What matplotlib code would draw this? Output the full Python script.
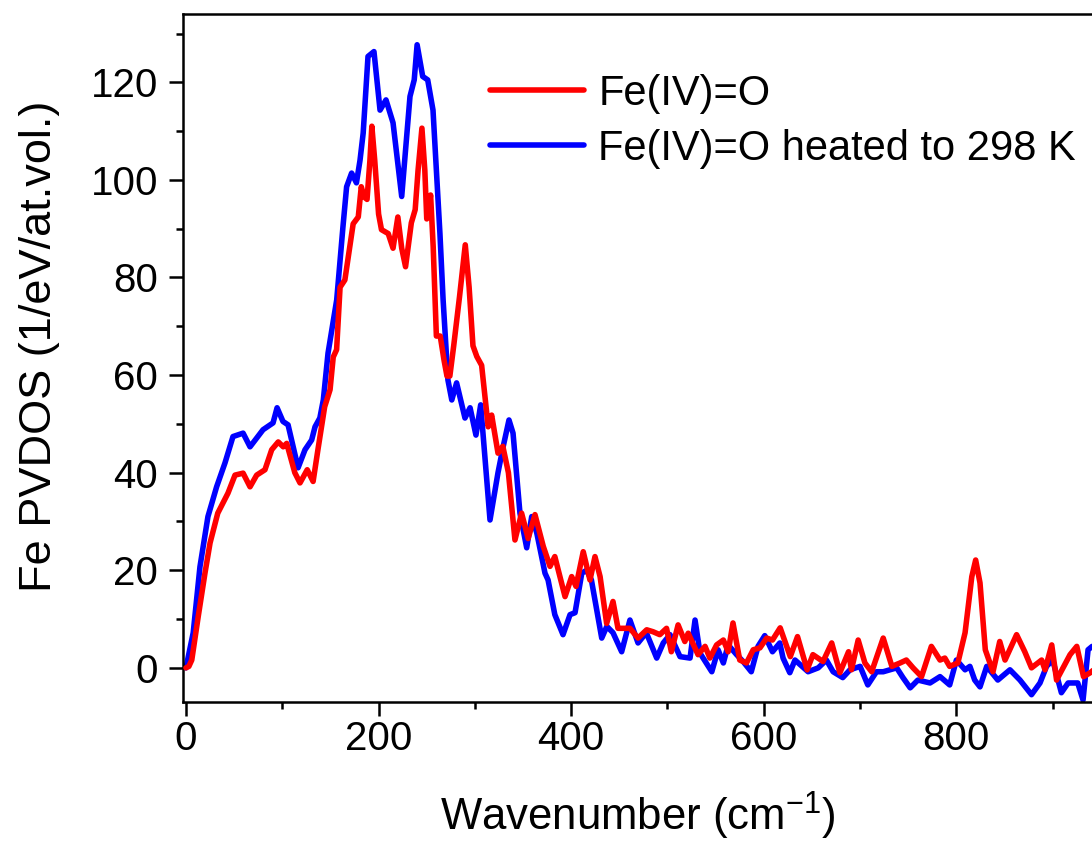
import numpy as np
import matplotlib
matplotlib.use('Agg')
import matplotlib.pyplot as plt
from matplotlib.ticker import MultipleLocator

plt.rcParams['font.family'] = ['Liberation Sans', 'DejaVu Sans']
plt.rcParams['mathtext.fontset'] = 'custom'
plt.rcParams['mathtext.rm'] = 'Liberation Sans'
plt.rcParams['mathtext.default'] = 'regular'

# Fe(IV)=O  (red)
red_x = [0, 3, 6, 12.7, 19.7, 25, 33, 43.6, 50.9, 59.3, 66.5, 73.4, 82, 89, 95.8,
         101, 104.6, 113, 118.4, 125.9, 132, 137, 144, 149.6, 152.9, 156.4, 160,
         165, 173.6, 178.9, 182, 185, 188, 191, 193, 196, 200, 203, 210, 215, 220,
         224, 228, 234, 238, 241, 245, 248, 250, 252, 254, 256.7, 260, 264, 268,
         271, 274, 278, 284, 290, 294, 298, 302, 307, 313.8, 317.4, 324, 329,
         334.8, 341.6, 348.5, 355.3, 362.4, 371, 378, 383, 393.6, 400.5, 405,
         412.5, 419.5, 424.7, 430, 436.8, 443.4, 448.6, 461, 469.4, 478.4, 485,
         492, 499, 504, 511, 518, 521.5, 531.7, 539, 544, 551, 558, 563, 568,
         575, 582, 589, 596, 603, 609, 617, 627.5, 635, 645, 651, 661.5, 670.5,
         679, 688, 691, 698, 705, 712, 724, 733, 741.5, 748, 755, 763.8, 774,
         783, 788, 793, 801.5, 809, 816, 820, 824.5, 830, 838, 845, 850.5, 862.5,
         871, 878, 888.5, 892, 899, 904, 918, 925, 932, 939, 945]
red_y = [0, 0.3, 1.6, 10.5, 19.4, 25.6, 31.7, 35.8, 39.5, 39.9, 37.1, 39.5, 40.6,
         44.7, 46.3, 45.3, 46, 40, 37.9, 40.6, 38.2, 44.7, 53.5, 57, 63.7, 65.2,
         78, 79.5, 91, 92.4, 98.6, 96.5, 96, 104, 111, 104, 93, 89.8, 89, 86, 92.4,
         86, 82.2, 91.2, 93.9, 102, 110.6, 102, 92, 94, 96.9, 86.3, 68, 68, 63,
         59.8, 59.8, 66, 76, 86.7, 78, 66, 63.8, 62, 49.4, 51.8, 44, 45.4, 40,
         26.2, 31.7, 26.5, 31.4, 24.9, 20.8, 22.8, 14.6, 18.7, 16.7, 23.8, 18,
         22.8, 18.7, 9.1, 13.6, 8.1, 8.1, 6.1, 7.8, 7.4, 6.8, 8.1, 3.3, 8.8, 5.4,
         7.1, 2.7, 4.4, 2, 4.7, 5.7, 3.3, 9.2, 1.6, 1, 3.7, 4.1, 6.1, 5.7, 8.2,
         2.3, 6.4, -0.4, 2.7, 1.3, 5.1, -1, 3.3, -0.4, 5.7, 1, -0.8, 6.1, 0.3, 1,
         1.6, 0, -1.8, 4.4, 1.6, 2, 0.3, 1, 7.2, 18.7, 22.1, 17.4, 3.7, -0.8, 5.4,
         1.6, 6.8, 3.3, 0, 1.6, -0.4, 4.7, -2.5, 2.7, 4.4, -1.8, -1, 0]

# Fe(IV)=O heated to 298 K  (blue)
blue_x = [0, 7.5, 14.5, 22.8, 31.8, 40.5, 48.8, 59.3, 66.5, 73.4, 80, 90.4, 94.6,
          100.7, 106, 116.4, 123.6, 130.5, 134, 139, 142.6, 147.5, 156.5, 163,
          166.8, 172, 177, 180.7, 184, 189, 195.2, 201.5, 207.7, 215, 224, 232.6,
          237, 240, 245.8, 251, 256.5, 263.7, 267, 272, 276, 281, 289.7, 295,
          301.1, 306, 315.7, 324, 329, 335.4, 339.6, 346.8, 353.8, 359, 364.2,
          372.8, 376, 383, 391.5, 398.8, 404, 411, 416, 421, 431.7, 437, 443.4,
          452.4, 461, 469.4, 478, 488.8, 495.6, 502.6, 513, 523.4, 528.6, 533.8,
          546, 552.5, 558, 563, 571.8, 578.5, 587, 594, 601, 609, 616.6, 620, 627,
          632.4, 646, 656.5, 665, 672, 682, 689.5, 700, 708, 717, 724, 738, 744.5,
          752, 760, 772.6, 783, 793, 800, 809, 814, 819, 824.5, 831.5, 843, 855.6,
          866, 878, 886.8, 893.6, 900, 909, 916, 926, 931.5, 936.7, 941, 945]
blue_y = [0, 7.2, 20.7, 31, 37.1, 42, 47.4, 48.1, 45.3, 47.1, 48.8, 50.2, 53.3,
          50.5, 49.8, 41, 44.7, 46.7, 49.4, 51.2, 54.9, 64.5, 75.4, 90.4, 98.6,
          101.4, 99.4, 104, 109.6, 125.3, 126.3, 114.3, 116.4, 111.7, 96.6, 117.1,
          120.5, 127.7, 121.2, 120.5, 114.3, 89, 75.4, 59, 54.9, 58.4, 51.2, 53.3,
          47.7, 53.9, 30.3, 40, 45, 50.8, 48.1, 31.7, 24.6, 31, 27.7, 19.4, 18,
          10.9, 6.8, 10.9, 11.3, 19.4, 20, 18, 6.1, 8.5, 7.2, 3.3, 9.8, 5.1, 7.2,
          2, 5.1, 6.8, 2.3, 2, 9.8, 3, -0.8, 3.7, 1, 4.7, 2.7, 1.3, -0.8, 4.4, 6.6,
          3.3, 5.1, 2, -1, 1.6, -0.8, 0, 1.6, -0.8, -2, -0.4, 0.3, -3.5, -0.8,
          -0.8, 0, -2, -4.1, -2.5, -3.1, -1.8, -3.5, 1.6, -0.4, 0.3, -2.5, -3.9,
          0.3, -2.5, -0.4, -2.5, -5.5, -3.1, 0.3, 1.6, -5.1, -3.1, -3.1, -6.6, 3.7,
          4.4, 4]

labels = ['Fe(IV)=O', 'Fe(IV)=O heated to 298 K']

fig = plt.figure(figsize=(10.92, 8.46), dpi=100)
ax = fig.add_axes([183/1092, 1 - 702/846, 1 - 183/1092, (702 - 14)/846])

l2, = ax.plot(blue_x, blue_y, color='#0000FF', lw=4, zorder=2,
              solid_joinstyle='round', solid_capstyle='round')
l1, = ax.plot(red_x, red_y, color='#FF0000', lw=4, zorder=3,
              solid_joinstyle='round', solid_capstyle='round')

ax.set_xlim(-3.1, 940.8)
ax.set_ylim(-7, 134)
ax.xaxis.set_major_locator(MultipleLocator(200))
ax.xaxis.set_minor_locator(MultipleLocator(100))
ax.yaxis.set_major_locator(MultipleLocator(20))
ax.yaxis.set_minor_locator(MultipleLocator(10))

for s in ax.spines.values():
    s.set_linewidth(1.8)
ax.spines['right'].set_visible(False)
ax.tick_params(which='both', direction='out', width=1.8, top=False, right=False,
               labelsize=29)
ax.tick_params(which='major', length=10)
ax.tick_params(which='minor', length=5)
ax.tick_params(axis='x', pad=3)
ax.tick_params(axis='y', pad=8)

ax.set_xlabel('Wavenumber (cm$^{-1}$)', fontsize=31.5)
ax.xaxis.set_label_coords(0.5, (702 - 790) / 688)
ax.set_ylabel('Fe PVDOS (1/eV/at.vol.)', fontsize=32.5)
ax.yaxis.set_label_coords((60 - 183) / 909, (702 - 346) / 688)

ax.legend([l1, l2], labels, loc='upper left',
          bbox_to_anchor=(490/1092, 1 - 74/846), bbox_transform=fig.transFigure,
          frameon=False, fontsize=30, handlelength=2.25, handletextpad=0.35,
          labelspacing=0.36, borderpad=0, borderaxespad=0)

fig.savefig('out.png', dpi=100)
